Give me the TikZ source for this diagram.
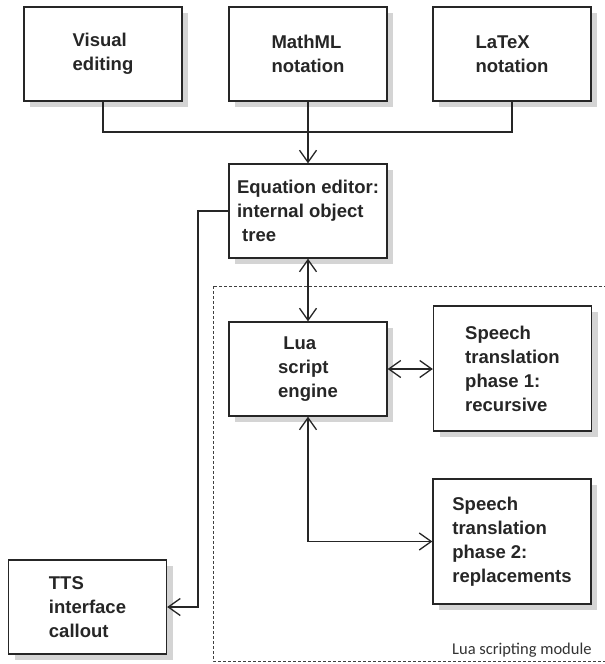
\documentclass[tikz,border=0pt]{standalone}
\usepackage{fontspec}
\setmainfont{Liberation Sans}
\newfontfamily\labelfont{Carlito}
\usetikzlibrary{arrows.meta,shadows}

\tikzset{
  block/.style={draw=black!85, line width=1.3pt, fill=white,
    minimum width=158pt, minimum height=94pt, inner sep=0pt,
    align=left, text=black!85,
    font=\fontsize{18.5}{24}\selectfont\bfseries,
    drop shadow={shadow xshift=6pt, shadow yshift=-6pt, fill=black!17, opacity=1}},
  tall/.style={minimum height=125pt},
  conn/.style={draw=black!85, line width=1.3pt},
  tip/.style={-{Straight Barb[length=12pt,width=17pt,line width=1.3pt]}},
  tips/.style={{Straight Barb[length=12pt,width=17pt,line width=1.3pt]}-{Straight Barb[length=12pt,width=17pt,line width=1.3pt]}},
  module/.style={draw=black!75, line width=0.8pt, dash pattern=on 3pt off 2pt}
}

\begin{document}
\begin{tikzpicture}[x=1pt,y=-1pt]
  \clip (0,0) rectangle (605,664);
  \fill[white] (0,0) rectangle (605,664);

  % scripting module frame (open towards the right edge)
  \draw[module] (213,286) rectangle (640,661);
  \node[anchor=base west, font=\labelfont\fontsize{16.5}{20}\selectfont, text=black!80, inner sep=0pt]
    (modlabel) at (452,654) {Lua scripting module};

  % input front ends
  \node[block] (vis) at (103,54) {Visual\\editing};
  \node[block] (mml) at (308,54) {MathML\\notation};
  \node[block] (ltx) at (512,54) {LaTeX\\notation};

  % core
  \node[block] (eq) at (308,211) {Equation editor:\\internal object\\~tree};
  \node[block] (lua) at (308,369) {~Lua\\script\\engine};
  \node[block,tall] (s1) at (512.5,368.5) {Speech\\translation\\phase 1:\\recursive};
  \node[block,tall] (s2) at (512,541.5) {Speech\\translation\\phase 2:\\replacements};
  \node[block] (tts) at (87.5,607) {TTS\\interface\\callout};

  % connectors
  \coordinate (join) at (308,132);
  \coordinate (bend) at (198,211);
  \draw[conn] (vis.south) |- (join) -| (ltx.south);
  \draw[conn,tip] (mml.south) -- (eq.north);
  \draw[conn,tips] (eq.south) -- (lua.north);
  \draw[conn,tips] (lua.east) -- (lua.east -| s1.west);
  \draw[conn,tips] (lua.south) |- (s2.west);
  \draw[conn,tip] (eq.west) -- (bend) |- (tts.east);
\end{tikzpicture}
\end{document}
